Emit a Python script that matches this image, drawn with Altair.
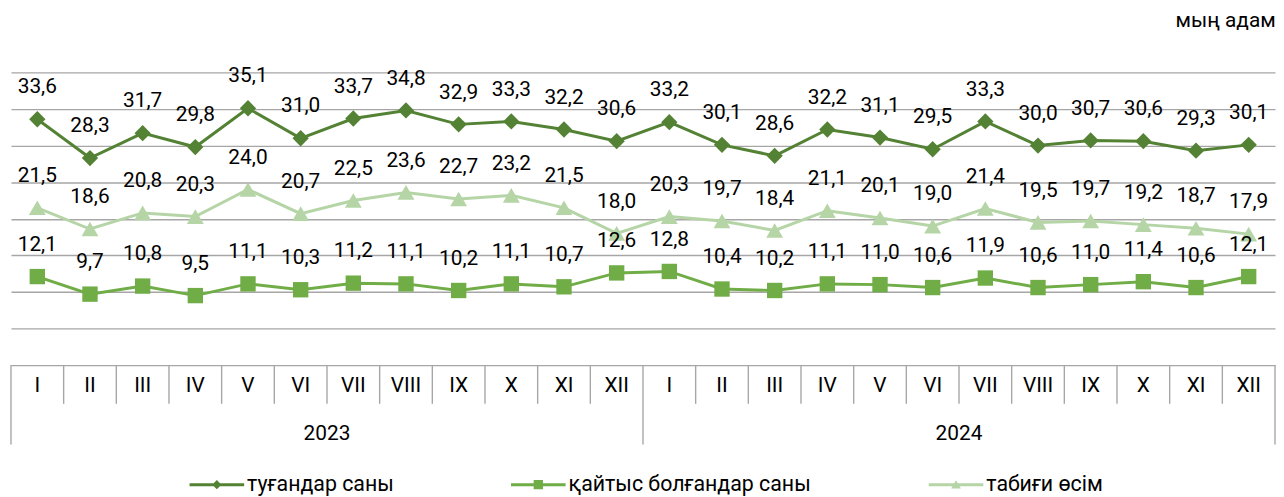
import altair as alt
import pandas as pd

# ---------------- data ----------------
months = ["I", "II", "III", "IV", "V", "VI", "VII", "VIII", "IX", "X", "XI", "XII"]
years = ["2023", "2024"]
series_names = ["туғандар саны", "қайтыс болғандар саны", "табиғи өсім"]

births = [33.6, 28.3, 31.7, 29.8, 35.1, 31.0, 33.7, 34.8, 32.9, 33.3, 32.2, 30.6,
          33.2, 30.1, 28.6, 32.2, 31.1, 29.5, 33.3, 30.0, 30.7, 30.6, 29.3, 30.1]
deaths = [12.1, 9.7, 10.8, 9.5, 11.1, 10.3, 11.2, 11.1, 10.2, 11.1, 10.7, 12.6,
          12.8, 10.4, 10.2, 11.1, 11.0, 10.6, 11.9, 10.6, 11.0, 11.4, 10.6, 12.1]
growth = [21.5, 18.6, 20.8, 20.3, 24.0, 20.7, 22.5, 23.6, 22.7, 23.2, 21.5, 18.0,
          20.3, 19.7, 18.4, 21.1, 20.1, 19.0, 21.4, 19.5, 19.7, 19.2, 18.7, 17.9]

grid_values = [0, 5, 10, 15, 20, 25, 30, 35, 40]
unit_label = "мың адам"

# ---------------- styles ----------------
colors = ["#548235", "#70ad47", "#b5d5a6"]
grid_color = "#a6a6a6"
FONT = "Roboto"
W, H = 1274, 375
Y0 = 295  # pixel position of value 0 inside the plot

legend_paths = [
    "M-1,-0.055H1V0.055H-1Z M0,-0.17L0.17,0L0,0.17L-0.17,0Z",
    "M-1,-0.055H1V0.055H-1Z M-0.17,-0.17H0.17V0.17H-0.17Z",
    "M-1,-0.055H1V0.055H-1Z M0,-0.16L0.18,0.14H-0.18Z",
]

# ---------------- tables ----------------
rows = []
for s, vals in zip(series_names, [births, deaths, growth]):
    for i, v in enumerate(vals):
        rows.append({"series": s, "idx": i, "value": v})
df = pd.DataFrame(rows)

n = len(months) * len(years)
month_df = pd.DataFrame({"idx": list(range(n)), "month": months * len(years)})
div_df = pd.DataFrame({
    "pos": [i - 0.5 for i in range(n + 1)],
    "kind": ["year" if i % len(months) == 0 else "month" for i in range(n + 1)],
})
year_df = pd.DataFrame({
    "year": years,
    "pos": [k * len(months) + (len(months) - 1) / 2 for k in range(len(years))],
})

xscale = alt.Scale(domain=[-0.5, n - 0.5], nice=False, zero=False)
yscale = alt.Scale(domain=[0, 40], range=[Y0, 0], nice=False, zero=False)
cscale = alt.Scale(domain=series_names, range=colors)

X = alt.X("idx:Q", scale=xscale, axis=None)
Y = alt.Y("value:Q", scale=yscale,
          axis=alt.Axis(values=grid_values, grid=True, labels=False, ticks=False,
                        domain=False, title=None, gridColor=grid_color,
                        gridWidth=1.4))

base = alt.Chart(df)

shapes = ["diamond", "square", "triangle-up"]
sizes = [270, 240, 290]
series_layers = []
for s, col, shp, sz in zip(series_names, colors, shapes, sizes):
    sub = base.transform_filter(alt.datum.series == s)
    series_layers.append(
        sub.mark_line(strokeWidth=3, color=col).encode(x=X, y=Y)
    )
    series_layers.append(
        sub.mark_point(shape=shp, filled=True, size=sz, opacity=1, color=col)
        .encode(x=X, y=Y)
    )

labels = base.transform_calculate(
    lab="replace(format(datum.value, '.1f'), '.', ',')"
).mark_text(font=FONT, fontSize=21, dy=-32, color="#000000").encode(
    x=X, y=alt.Y("value:Q", scale=yscale), text="lab:N"
)

leg = alt.Legend(orient="none", legendX=180, legendY=388, direction="horizontal",
                 title=None, labelFont=FONT, labelFontSize=21.5, labelColor="#000000",
                 labelLimit=500, symbolSize=3025, symbolStrokeWidth=0,
                 columnPadding=118, labelOffset=3)
legend_layer = base.transform_filter("datum.idx < 0").mark_point(
    filled=True, size=3025, opacity=1
).encode(
    x=alt.value(0), y=alt.value(0),
    color=alt.Color("series:N", scale=cscale, legend=leg),
    shape=alt.Shape("series:N", scale=alt.Scale(domain=series_names, range=legend_paths),
                    legend=leg),
)

divX = alt.X("pos:Q", scale=xscale, axis=None)
month_div = alt.Chart(div_df).transform_filter(alt.datum.kind == "month").mark_rule(
    color=grid_color, strokeWidth=1.4
).encode(x=divX, y=alt.value(Y0), y2=alt.value(Y0 + 39))
year_div = alt.Chart(div_df).transform_filter(alt.datum.kind == "year").mark_rule(
    color=grid_color, strokeWidth=1.4
).encode(x=divX, y=alt.value(Y0), y2=alt.value(Y0 + 80))

month_text = alt.Chart(month_df).mark_text(
    font=FONT, fontSize=21, color="#000000", baseline="middle"
).encode(x=X, y=alt.value(Y0 + 21), text="month:N")

year_text = alt.Chart(year_df).mark_text(
    font=FONT, fontSize=21, color="#000000", baseline="middle"
).encode(x=divX, y=alt.value(Y0 + 69), text="year:N")

chart = alt.layer(
    month_div, year_div, month_text, year_text,
    *series_layers, labels, legend_layer,
).properties(
    width=W, height=H,
    padding={"left": 2, "right": 0, "top": 0, "bottom": 0},
    title=alt.Title(unit_label, anchor="end", font=FONT, fontSize=21,
                    fontWeight="normal", color="#000000", offset=35, dx=0),
).configure_view(stroke=None).configure_axis(minExtent=0)

chart.save("out.html", embed_options={"renderer": "svg", "actions": False})
